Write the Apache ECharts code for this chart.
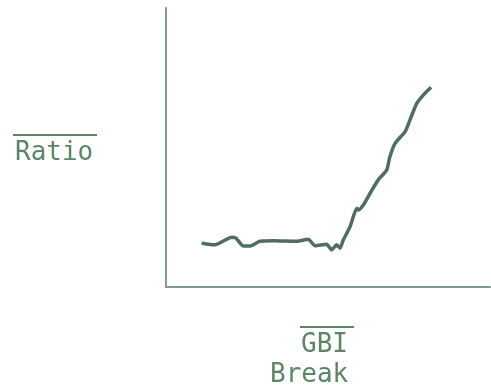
<!DOCTYPE html>
<html>
<head>
<meta charset="utf-8">
<script src="https://cdn.jsdelivr.net/npm/echarts@6/dist/echarts.min.js"></script>
<style>html,body{margin:0;padding:0;background:#fff}#c{width:491px;height:391px}</style>
</head>
<body>
<div id="c"></div>
<script>
// GBI (x) values, arbitrary units 0-100
const gbi = [11.0, 15.1, 20.3, 21.6, 23.9, 25.9, 29.0, 33.1, 40.3, 43.9, 46.0, 49.6, 51.1, 52.7, 53.7, 54.7, 56.8, 58.9, 59.4, 60.9, 63.0, 65.5, 68.1, 69.1, 70.7, 73.8, 75.3, 77.4, 79.4, 81.8];
// Ratio (y) values, arbitrary units 0-100
const ratio = [15.7, 15.1, 17.8, 17.5, 14.7, 14.7, 16.4, 16.6, 16.4, 17.1, 14.8, 15.3, 13.3, 15.1, 13.9, 16.8, 21.6, 28.2, 27.6, 29.4, 33.6, 38.4, 41.9, 46.7, 51.5, 55.7, 59.9, 65.8, 68.8, 71.6];
const yLabel = "Ratio";
const xLabel1 = "GBI";
const xLabel2 = "Break";

const chart = echarts.init(document.getElementById('c'));
const axisCol = '#7f9c8c';
const textCol = '#5f8466';
const font = '"DejaVu Sans Mono", monospace';
chart.setOption({
  animation: false,
  backgroundColor: '#ffffff',
  grid: {left: 166, right: 1, top: 8, bottom: 104},
  xAxis: {type: 'value', min: 0, max: 100, axisLine: {show: true, lineStyle: {color: axisCol, width: 2}},
    axisTick: {show: false}, axisLabel: {show: false}, splitLine: {show: false}},
  yAxis: {type: 'value', min: 0, max: 100, axisLine: {show: true, lineStyle: {color: axisCol, width: 2}},
    axisTick: {show: false}, axisLabel: {show: false}, splitLine: {show: false}},
  series: [{type: 'line', data: gbi.map((x, i) => [x, ratio[i]]), showSymbol: false, smooth: 0.2,
    lineStyle: {color: '#4f6e5e', width: 3.5}}],
  graphic: [
    {type: 'text', left: 15, top: 140, style: {text: yLabel, font: '26px ' + font, fill: textCol}},
    {type: 'line', shape: {x1: 13, y1: 135, x2: 97, y2: 135}, style: {stroke: textCol, lineWidth: 2}},
    {type: 'text', left: 301, top: 332, style: {text: xLabel1, font: '26px ' + font, fill: textCol}},
    {type: 'line', shape: {x1: 300, y1: 327, x2: 354, y2: 327}, style: {stroke: textCol, lineWidth: 2}},
    {type: 'text', left: 270, top: 362, style: {text: xLabel2, font: '26px ' + font, fill: textCol}}
  ]
});
</script>
</body>
</html>
